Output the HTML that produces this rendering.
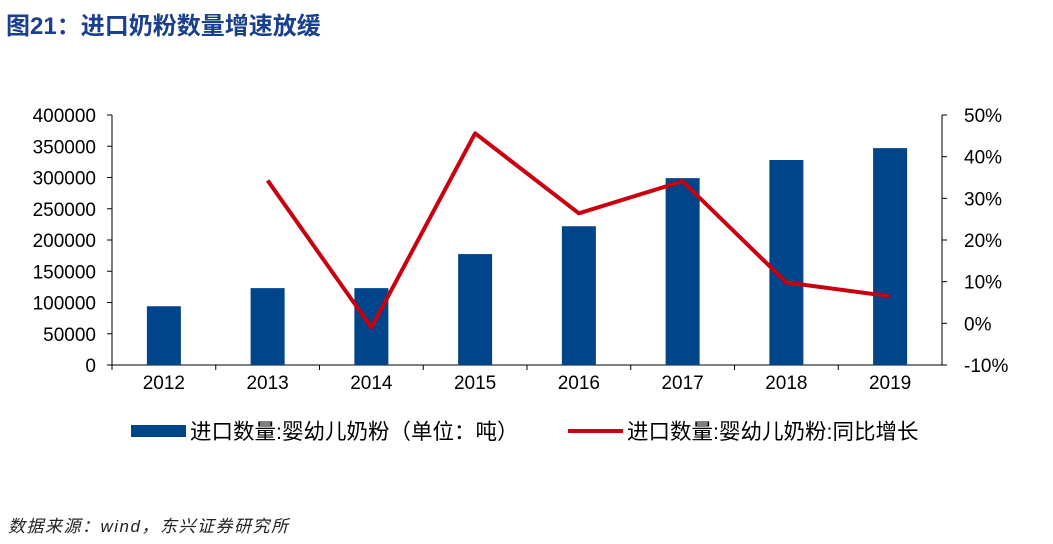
<!DOCTYPE html>
<html><head><meta charset="utf-8">
<style>
body{margin:0;background:#fff;width:1053px;height:544px;overflow:hidden;font-family:"Liberation Sans","Noto Sans CJK SC",sans-serif;}
#title{position:absolute;left:6px;top:6px;font-size:24px;font-weight:bold;color:#1a3f8c;font-family:"Liberation Sans","Noto Sans CJK SC",sans-serif;}
#src{position:absolute;left:8px;top:512px;font-size:17px;font-style:italic;color:#222;letter-spacing:1.5px;}
svg{position:absolute;left:0;top:0;}
</style></head><body>
<div id="title">图21：进口奶粉数量增速放缓</div>
<svg id="chart" width="1053" height="544"></svg>
<div id="src">数据来源：wind，东兴证券研究所</div>
<script>
const categories=["2012","2013","2014","2015","2016","2017","2018","2019"];
const volumes=[94000,123000,123000,177500,222000,299000,328000,347000];
const growth=[null,34.3,-1,45.6,26.4,34.1,9.8,6.5];
const leftTicks=[0,50000,100000,150000,200000,250000,300000,350000,400000];
const rightTicks=[-10,0,10,20,30,40,50];
const NS="http://www.w3.org/2000/svg";
const svg=document.getElementById('chart');
const x0=112,x1=942,yTop=115,yBot=365;
const bw=(x1-x0)/categories.length;
const xC=i=>x0+bw*(i+0.5);
const yL=v=>yBot-(v/400000)*(yBot-yTop);
const yR=v=>yBot-((v+10)/60)*(yBot-yTop);
function mk(t,a,txt){const e=document.createElementNS(NS,t);for(const k in a)e.setAttribute(k,a[k]);if(txt!==undefined)e.textContent=txt;svg.appendChild(e);return e;}
let e;
e=mk('line',{x1:x0,y1:yTop,x2:x0,y2:yBot,stroke:'#000','stroke-width':1});


e=mk('line',{x1:x1,y1:yTop,x2:x1,y2:yBot,stroke:'#000','stroke-width':1});


e=mk('line',{x1:x0,y1:yBot,x2:x1,y2:yBot,stroke:'#000','stroke-width':1});


leftTicks.forEach(v=>{
 mk('line',{x1:x0-5,y1:yL(v),x2:x0,y2:yL(v),stroke:'#000'});
 e=mk('text',{x:x0-16,y:yL(v)+7,'text-anchor':'end','font-size':19,fill:'#000'},String(v));
 
 
});
rightTicks.forEach(v=>{
 mk('line',{x1:x1,y1:yR(v),x2:x1+5,y2:yR(v),stroke:'#000'});
 e=mk('text',{x:x1+22,y:yR(v)+7,'text-anchor':'start','font-size':19,fill:'#000'},v+'%');
 
 
});
categories.forEach((c,i)=>{
 mk('line',{x1:x0+bw*i,y1:yBot,x2:x0+bw*i,y2:yBot+5,stroke:'#000'});
 e=mk('text',{x:xC(i),y:yBot+24,'text-anchor':'middle','font-size':19,fill:'#000'},c);
 
 
 e=mk('rect',{x:xC(i)-17,y:yL(volumes[i]),width:34,height:yBot-yL(volumes[i]),fill:'#004489'});
 
 
});
let d='';
growth.forEach((g,i)=>{if(g===null)return;d+=(d?'L':'M')+xC(i)+','+yR(g);});
e=mk('path',{d:d,fill:'none',stroke:'#c8000f','stroke-width':4,'stroke-linejoin':'round'});


e=mk('rect',{x:131,y:425,width:55,height:12,fill:'#004489'});


e=mk('text',{x:190,y:439,'font-size':21.5,fill:'#000'},'进口数量:婴幼儿奶粉（单位：吨）');


e=mk('line',{x1:568,y1:431,x2:623,y2:431,stroke:'#c8000f','stroke-width':4});


e=mk('text',{x:627,y:439,'font-size':21.5,fill:'#000'},'进口数量:婴幼儿奶粉:同比增长');


</script>
</body></html>
